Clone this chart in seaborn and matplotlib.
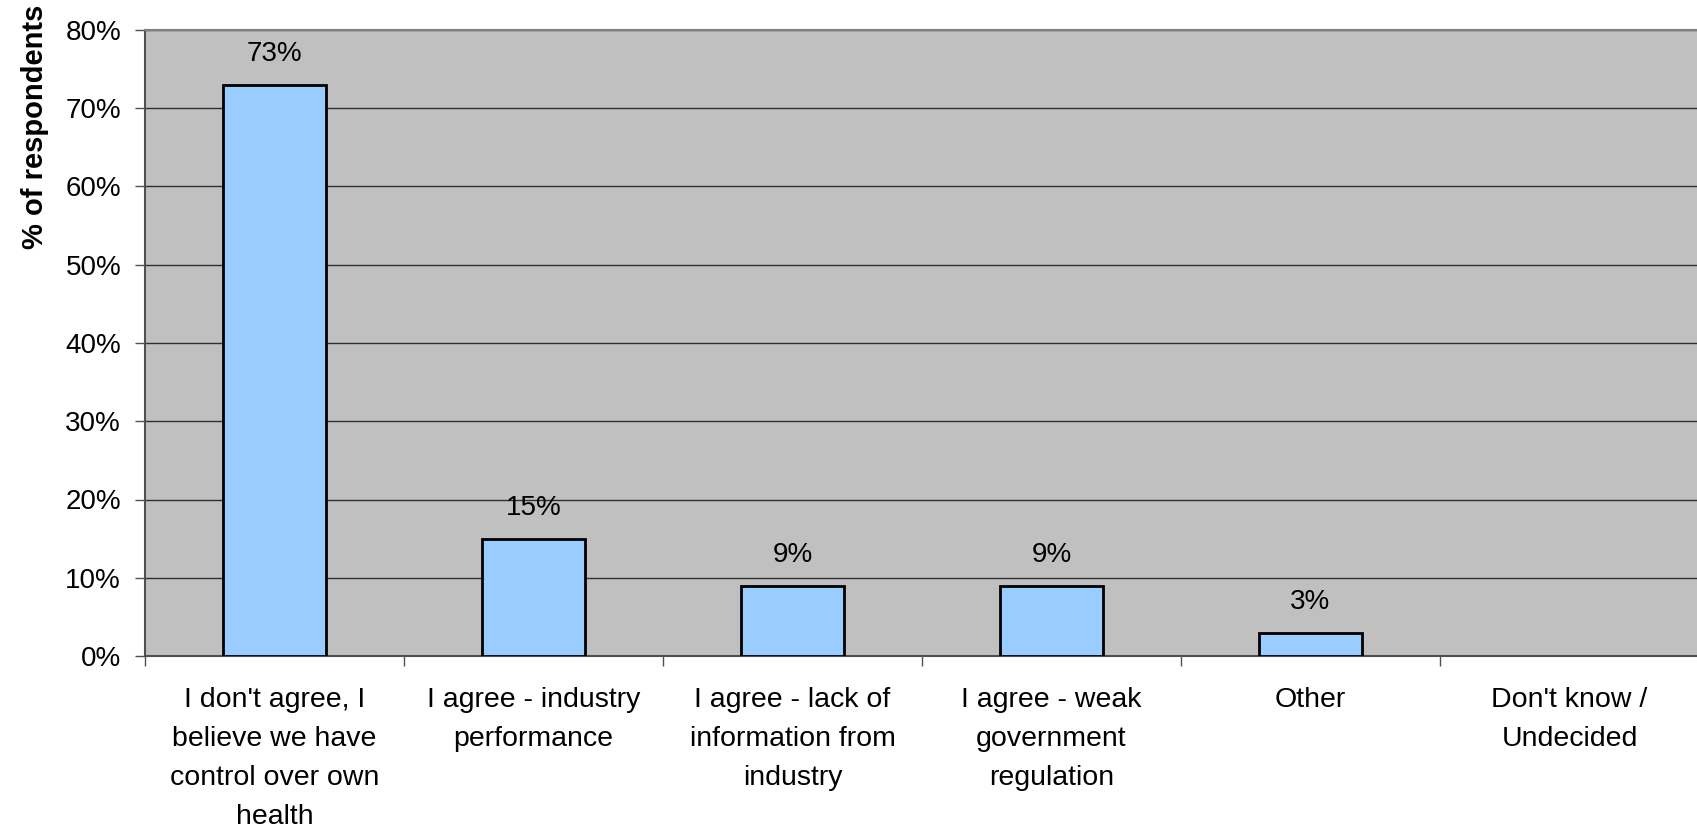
import matplotlib
matplotlib.use("Agg")
import matplotlib.pyplot as plt
import seaborn as sns
import pandas as pd
from matplotlib.ticker import FuncFormatter, MultipleLocator

categories = [
    "I don't agree, I\nbelieve we have\ncontrol over own\nhealth",
    "I agree - industry\nperformance",
    "I agree - lack of\ninformation from\nindustry",
    "I agree - weak\ngovernment\nregulation",
    "Other",
    "Don't know /\nUndecided",
]
values = [73, 15, 9, 9, 3, 0]
value_labels = ["73%", "15%", "9%", "9%", "3%", ""]

sns.set_style("white")
plt.rcParams['font.family'] = ['Liberation Sans', 'DejaVu Sans']
plt.rcParams['text.color'] = 'black'
plt.rcParams['axes.labelcolor'] = 'black'
plt.rcParams['xtick.color'] = 'black'
plt.rcParams['ytick.color'] = 'black'

df = pd.DataFrame({"cat": categories, "val": values})

fig = plt.figure(figsize=(16.97, 8.27), dpi=100)
ax = fig.add_axes([145/1697, 1 - 656/827, (1699 - 145)/1697, (656 - 30)/827])
ax.set_facecolor("#C0C0C0")

sns.barplot(data=df, x="cat", y="val", color="#99CCFF", saturation=1,
            edgecolor="black", linewidth=2, width=0.40, ax=ax, zorder=3)

for patch, v in zip(ax.containers[0], values):
    if v == 0:
        patch.set_linewidth(0)

ax.set_ylim(0, 80)
ax.set_xlim(-0.5, 5.5)
ax.yaxis.set_major_locator(MultipleLocator(10))
ax.yaxis.set_major_formatter(FuncFormatter(lambda v, p: f"{int(v)}%"))
ax.grid(axis="y", color="#303030", linewidth=1, zorder=1)
ax.set_axisbelow(True)

ax.spines["right"].set_visible(False)
ax.spines["top"].set_color("#808080")
ax.spines["top"].set_linewidth(1.5)
ax.spines["left"].set_color("#505050")
ax.spines["left"].set_linewidth(1.5)
ax.spines["bottom"].set_color("#505050")
ax.spines["bottom"].set_linewidth(1.5)

ax.tick_params(axis="y", which="major", length=7.2, width=1, color="#505050",
               left=True, labelsize=20, pad=10)
ax.tick_params(axis="x", which="major", length=0, labelsize=20.5, pad=22)
ax.set_xticks(range(len(categories)))
ax.set_xticklabels(categories, linespacing=1.66)
ax.set_xticks([i + 0.5 for i in range(-1, len(categories) - 1)], minor=True)
ax.tick_params(axis="x", which="minor", length=7.2, width=1, color="#505050", bottom=True)

ax.set_xlabel("")
ax.set_ylabel("% of respondents", fontsize=21, fontweight="bold")
ax.yaxis.set_label_coords(-0.0615, 0.845)

ax.bar_label(ax.containers[0], labels=value_labels, padding=12.5, fontsize=20)

fig.savefig("out.png", dpi=100)
